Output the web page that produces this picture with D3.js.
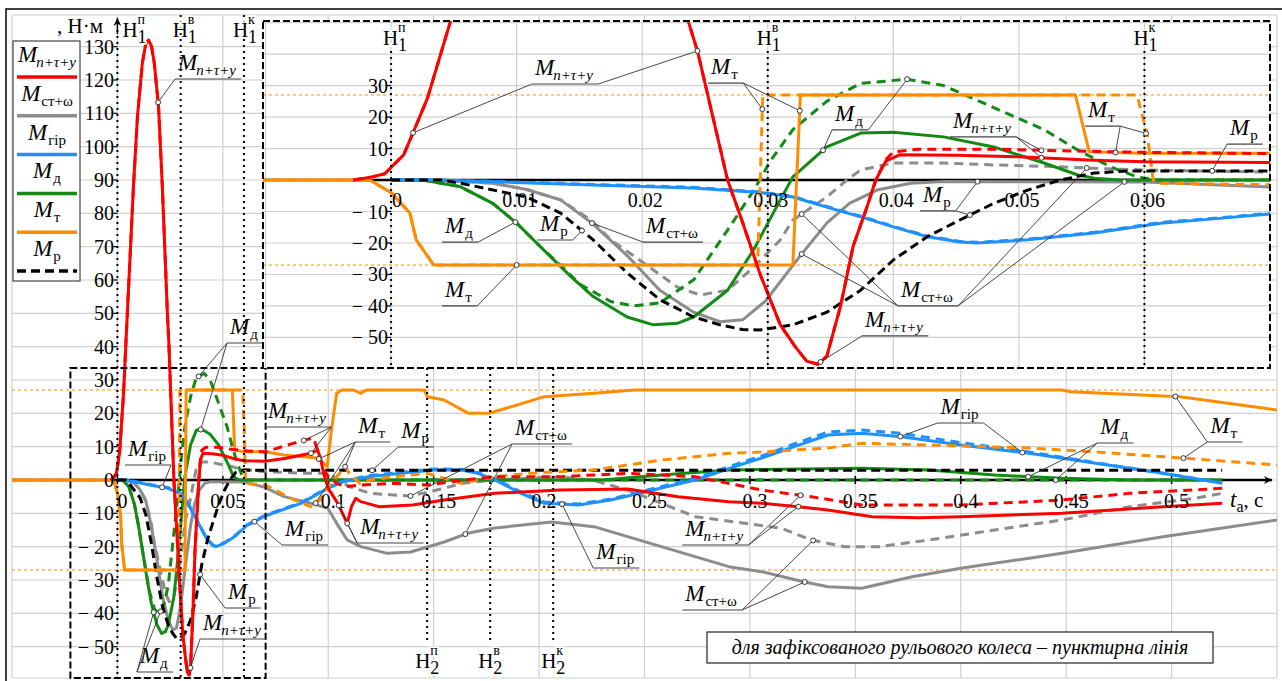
<!DOCTYPE html>
<html>
<head>
<meta charset="utf-8">
<title>Moments</title>
<script src="https://d3js.org/d3.v7.min.js"></script>
<style>
  body { margin: 0; background: #fff; }
  text { font-family: "Liberation Serif", "DejaVu Serif", serif; fill: #000; }
</style>
</head>
<body>
<script>
// ---- data (t in s, moment in N*m) ----
const redSolid = [[-0.003,0],[-0.0015,1],[-0.0005,2],[0,4],[0.001,8],[0.00175,15],[0.0029,26],[0.0047,50],[0.0076,88],[0.0095,109],[0.0118,125],[0.0135,131],[0.0148,132],[0.0162,130],[0.0175,125],[0.0195,112],[0.0213,88],[0.0237,50],[0.0244,41],[0.0268,0],[0.028,-13.5],[0.0294,-30],[0.031,-46],[0.0322,-53],[0.0331,-57.5],[0.034,-58.5],[0.0347,-56],[0.0358,-40],[0.0368,-21],[0.0379,-8.6],[0.0386,0],[0.0394,6],[0.0405,8],[0.045,7.9],[0.05,7.4],[0.0559,6.3],[0.06,5.8],[0.07,5.6],[0.08,6.5],[0.0917,8],[0.095,9],[0.0965,6],[0.098,1.5],[0.1,-2.5],[0.1045,-7],[0.109,-13],[0.111,-8],[0.113,-5.5],[0.1155,-6.5],[0.124,-8],[0.14,-7.5],[0.155,-6],[0.179,-4],[0.21,-3],[0.242,-2.7],[0.266,-5],[0.29,-6.5],[0.3056,-7],[0.323,-8],[0.337,-9],[0.358,-11],[0.38,-11.3],[0.4,-11],[0.448,-10],[0.496,-8],[0.524,-7]];
const redDashed = [[-0.003,0],[-0.0015,1],[-0.0005,2],[0,4],[0.001,8],[0.00175,15],[0.0029,26],[0.0047,50],[0.0076,88],[0.0095,109],[0.0118,125],[0.0135,131],[0.0148,132],[0.0162,130],[0.0175,125],[0.0195,112],[0.0213,88],[0.0237,50],[0.0244,41],[0.0268,0],[0.028,-13.5],[0.0294,-30],[0.031,-46],[0.0322,-53],[0.0331,-57.5],[0.034,-58.5],[0.0347,-56],[0.0358,-40],[0.0368,-21],[0.0379,-8.6],[0.0386,0],[0.0394,6.5],[0.04,8.9],[0.042,9.8],[0.048,9.8],[0.053,9.3],[0.06,8.8],[0.07,8.4],[0.0855,11.4],[0.093,12.6],[0.0955,8],[0.098,3],[0.1,1],[0.104,-1],[0.108,-2],[0.115,-1.5],[0.131,-1],[0.147,-1.5],[0.165,0],[0.179,1],[0.21,1],[0.242,2],[0.274,1],[0.2975,-2],[0.3056,-3],[0.329,-5],[0.353,-7.5],[0.4,-7.5],[0.448,-6],[0.48,-4],[0.524,-2.5]];
const greySolid = [[0,0],[0.004,0],[0.0081,-1],[0.0108,-3],[0.0135,-6.3],[0.016,-13.7],[0.0188,-24],[0.0214,-35],[0.0241,-42],[0.0262,-45],[0.028,-44.4],[0.0298,-38.5],[0.0326,-24],[0.0347,-13.7],[0.0365,-7.4],[0.0387,-3.2],[0.0414,-1],[0.044,-0.5],[0.06,-0.6],[0.07,-2.2],[0.079,-5],[0.092,-7],[0.0998,-8.5],[0.104,-13],[0.109,-18],[0.1155,-20],[0.128,-22],[0.139,-21.6],[0.155,-18.6],[0.166,-16],[0.179,-14.4],[0.206,-12.6],[0.226,-14],[0.258,-20],[0.29,-26],[0.3056,-27.5],[0.326,-30.6],[0.337,-32],[0.353,-32.5],[0.377,-29],[0.4,-26.5],[0.448,-22],[0.496,-17],[0.55,-12]];
const greyDashed = [[0,0],[0.004,0],[0.0081,-1],[0.0108,-3],[0.0135,-6.3],[0.016,-13],[0.0175,-19],[0.02,-26],[0.0228,-34],[0.0246,-36.5],[0.0268,-35],[0.0289,-27.6],[0.031,-19],[0.032,-12.7],[0.0347,-5.4],[0.0363,0],[0.0374,3.2],[0.04,5.4],[0.044,5.4],[0.048,4.8],[0.0533,4.2],[0.056,3.7],[0.06,3.2],[0.07,2.5],[0.09,2],[0.1,2],[0.105,0],[0.11,-2],[0.12,-4],[0.131,-4.5],[0.139,-4.8],[0.155,-2.5],[0.163,-1],[0.179,0],[0.21,1],[0.225,0],[0.242,-3],[0.258,-7],[0.274,-11],[0.2975,-13],[0.315,-14.5],[0.329,-18],[0.345,-20],[0.361,-20],[0.385,-18],[0.416,-15],[0.448,-12],[0.48,-8],[0.511,-5.5],[0.524,-4]];
const blueSolid = [[0,0],[0.0029,0],[0.008,-0.5],[0.016,-1.6],[0.024,-2.5],[0.0294,-4],[0.032,-5.4],[0.0347,-8.6],[0.0374,-11.7],[0.04,-14.9],[0.0427,-18],[0.0453,-19.7],[0.0467,-20],[0.0507,-19],[0.056,-16.8],[0.0613,-13.7],[0.065,-12.5],[0.07,-10.8],[0.087,-7],[0.0998,-2.5],[0.107,-0.5],[0.119,1],[0.1345,2],[0.15,3],[0.163,3],[0.171,2],[0.179,0],[0.1915,-4],[0.2025,-7],[0.2186,-7.5],[0.234,-6],[0.25,-3.6],[0.274,0],[0.2975,5],[0.3056,6.6],[0.321,10],[0.337,13.5],[0.353,14],[0.372,13],[0.4,10.5],[0.4325,8],[0.464,5],[0.496,2],[0.524,-1]];
const blueDashed = [[0,0],[0.0029,0],[0.008,-0.4],[0.016,-1.4],[0.024,-2.3],[0.0294,-3.8],[0.032,-5.2],[0.0347,-8.4],[0.0374,-11.5],[0.04,-14.7],[0.0427,-17.8],[0.0453,-19.5],[0.0467,-19.8],[0.0507,-18.8],[0.056,-16.6],[0.0613,-13.5],[0.065,-12.3],[0.07,-10.6],[0.087,-6.8],[0.0998,-2.3],[0.107,-0.3],[0.119,1.3],[0.1345,2.3],[0.15,3.3],[0.163,3.2],[0.171,2.2],[0.179,0.3],[0.1915,-3.6],[0.2025,-6.6],[0.2186,-7.2],[0.234,-5.7],[0.25,-3.2],[0.274,0.5],[0.2975,5.6],[0.3056,7.2],[0.321,10.8],[0.337,14.4],[0.353,15],[0.372,14],[0.4,11.2],[0.4325,8.4],[0.464,5.2],[0.496,2],[0.524,-0.8]];
const greenSolid = [[0,0],[0.0025,0],[0.0055,-2.1],[0.0081,-7.4],[0.01,-13.7],[0.0121,-22],[0.0143,-30.6],[0.0161,-37],[0.0188,-43.5],[0.0209,-46],[0.0228,-45.5],[0.0241,-43.5],[0.0268,-35],[0.0289,-22],[0.031,-6.3],[0.032,1],[0.0347,10.5],[0.0374,14.9],[0.04,15.2],[0.044,13.7],[0.048,10.5],[0.052,5.4],[0.0547,1.6],[0.056,0.6],[0.058,0],[0.23,0],[0.258,1.5],[0.29,3],[0.353,3.5],[0.385,3],[0.416,1.5],[0.448,0.5],[0.48,0],[0.524,0]];
const greenDashed = [[0,0],[0.0025,0],[0.0055,-2.1],[0.0081,-7.4],[0.01,-13.7],[0.0121,-22],[0.0135,-27],[0.015,-33],[0.0175,-38.6],[0.0193,-40],[0.0214,-39],[0.0241,-31.7],[0.0268,-15.9],[0.0289,-3.2],[0.0302,6],[0.032,16],[0.0347,25],[0.0374,30.7],[0.0411,32],[0.044,30],[0.048,23],[0.052,16],[0.0547,9.5],[0.0573,4.2],[0.0594,1],[0.061,0],[0.524,0]];
const orangeSolid = [[-0.05,0],[-0.0017,0],[0,-4],[0.0015,-10.5],[0.002,-19],[0.0034,-27],[0.032,-27],[0.0326,27],[0.0545,27],[0.0556,9],[0.06,8.5],[0.07,8.5],[0.079,7.5],[0.095,6.6],[0.0995,4],[0.1015,15],[0.104,26],[0.1065,27],[0.112,27],[0.1155,26],[0.118,27],[0.1455,27],[0.147,25],[0.155,24],[0.1665,20],[0.176,20],[0.187,22],[0.2025,25],[0.226,26],[0.245,27],[0.448,27],[0.452,26.5],[0.504,25],[0.55,21]];
const orangeDashed = [[-0.05,0],[-0.0017,0],[0,-4],[0.0015,-10.5],[0.002,-19],[0.0034,-27],[0.0292,-27],[0.0296,27],[0.0594,27],[0.0602,15],[0.0607,0],[0.0613,-1],[0.07,-1.5],[0.084,-6],[0.0917,-8],[0.096,-6],[0.1,-2],[0.104,1],[0.108,4],[0.11,2],[0.115,-1],[0.12,0],[0.131,1],[0.147,2],[0.163,-1],[0.179,1],[0.195,2],[0.226,3],[0.258,6],[0.29,8],[0.3056,8.4],[0.337,9.6],[0.353,11],[0.385,10.5],[0.4325,9.6],[0.464,8.4],[0.496,7],[0.55,4.5]];
const blackDashed = [[0,0],[0.004,0],[0.0055,-1],[0.0108,-5.4],[0.0135,-10.5],[0.0161,-19],[0.0188,-29.5],[0.0214,-38],[0.0241,-43.5],[0.0262,-46],[0.028,-47.5],[0.0294,-47.6],[0.032,-46],[0.0347,-42],[0.0374,-35],[0.04,-25.4],[0.0427,-18],[0.0453,-12.7],[0.048,-7.4],[0.0507,-3.2],[0.0533,0],[0.056,2.2],[0.0587,2.9],[0.524,2.9]];

const limitMoment = 27;           // orange reference lines +-27
const mainXTicks = [0, 0.05, 0.1, 0.15, 0.2, 0.25, 0.3, 0.35, 0.4, 0.45, 0.5];
const mainYTicks = [-50, -40, -30, -20, -10, 0, 10, 20, 30, 40, 50, 60, 70, 80, 90, 100, 110, 120, 130];
const insetXTicks = [0, 0.01, 0.02, 0.03, 0.04, 0.05, 0.06];
const insetYTicks = [-50, -40, -30, -20, -10, 10, 20, 30];
const stage1 = [["п", 0], ["в", 0.03], ["к", 0.06]];
const stage2 = [["п", 0.1469], ["в", 0.1768], ["к", 0.2067]];
const legendNames = [["n+τ+y", true], ["ст+ω", false], ["гір", false], ["д", false], ["т", false], ["р", false]];

const S = {redS: redSolid, redD: redDashed, greyS: greySolid, greyD: greyDashed, blueS: blueSolid, blueD: blueDashed,
           greenS: greenSolid, greenD: greenDashed, orS: orangeSolid, orD: orangeDashed, blkD: blackDashed};

// drawing order and look
const styles = [
  ["greyS", "#8c8c8c", null], ["greyD", "#8c8c8c", "9,6"],
  ["greenS", "#138a13", null], ["greenD", "#138a13", "9,6"],
  ["blueS", "#1e90ff", null], ["blueD", "#1e90ff", "9,6"],
  ["blkD", "#000", "9,5"],
  ["orS", "#ff8c00", null], ["orD", "#ff8c00", "9,6"],
  ["redS", "#ff0000", null], ["redD", "#ff0000", "9,6"]
];
const legendColors = [["#ff0000", null], ["#8c8c8c", null], ["#1e90ff", null], ["#138a13", null], ["#ff8c00", null], ["#000", "9,5"]];

// callouts: underline left end [t, v], targets [end, series, t] or [end, t, v]
const insetNotes = [
  {sub: "n+τ+y", it: true, at: [0.01123, 30.5], to: [["l", "redS", 0.00175], ["r", "redS", 0.0244]]},
  {sub: "т", at: [0.02525, 30.8], to: [["r", 0.02957, 22.5], ["r", 0.03255, 22]]},
  {sub: "д", at: [0.03512, 15.9], to: [["l", "greenS", 0.0344], ["r", "greenD", 0.0411]]},
  {sub: "n+τ+y", it: true, at: [0.04452, 13.7], to: [["r", "redD", 0.0518], ["r", "redS", 0.0518]]},
  {sub: "т", at: [0.05527, 17.1], to: [["r", "orS", 0.0577], ["r", 0.06013, 14.8]]},
  {sub: "р", at: [0.06658, 11.4], to: [["l", "blkD", 0.0654]]},
  {sub: "ст+ω", at: [0.04038, -40], to: [["l", "greyD", 0.0327], ["l", "greyS", 0.0327], ["r", "greyD", 0.0554], ["r", "greyS", 0.0584]]},
  {sub: "ст+ω", at: [0.02007, -19.7], to: [["l", "greyS", 0.016]]},
  {sub: "р", at: [0.01163, -19.05], to: [["r", "blkD", 0.0152]]},
  {sub: "д", at: [0.00406, -19.7], to: [["r", "greenS", 0.0099]]},
  {sub: "т", at: [0.00406, -40], to: [["r", "orS", 0.01]]},
  {sub: "р", at: [0.04213, -9.8], to: [["r", "blkD", 0.0461], ["r", "greyS", 0.0467]]},
  {sub: "n+τ+y", it: true, at: [0.03751, -49.5], to: [["l", "redS", 0.0342]]}
];
const mainNotes = [
  {sub: "n+τ+y", it: true, at: [0.02733, 120.3], to: [["l", "redS", 0.0193]]},
  {sub: "д", at: [0.052, 41.1], to: [["l", "greenD", 0.0385], ["l", "greenS", 0.0395]]},
  {sub: "гір", at: [0.0036, 4.5], to: [["r", "blueS", 0.0212]]},
  {sub: "р", at: [0.05105, -38.4], to: [["l", "blkD", 0.0392]]},
  {sub: "n+τ+y", it: true, at: [0.03919, -47.7], to: [["l", "redS", 0.0346]]},
  {sub: "д", at: [0.00925, -57.6], to: [["l", "greenS", 0.0172], ["l", "greenD", 0.0205]]},
  {sub: "n+τ+y", it: true, at: [0.07004, 15.9], to: [["r", "redD", 0.0884], ["r", "redS", 0.0918]]},
  {sub: "т", at: [0.1128, 11.4], to: [["l", "orS", 0.0955], ["l", "orD", 0.108], ["l", "orD", 0.094]]},
  {sub: "р", at: [0.1332, 9.9], to: [["l", "blkD", 0.1208]]},
  {sub: "ст+ω", at: [0.1872, 10.8], to: [["l", "greyD", 0.139], ["l", "greyS", 0.165]]},
  {sub: "гір", at: [0.0781, -19.5], to: [["l", "blueS", 0.065]]},
  {sub: "n+τ+y", it: true, at: [0.1137, -18.9], to: [["l", "redS", 0.105], ["l", "redS", 0.109]]},
  {sub: "гір", at: [0.2257, -26.4], to: [["l", "blueS", 0.2109]]},
  {sub: "n+τ+y", it: true, at: [0.2679, -19.5], to: [["r", "redD", 0.324], ["r", "redS", 0.323]]},
  {sub: "ст+ω", at: [0.2679, -39], to: [["r", "greyD", 0.33], ["r", "greyS", 0.326]]},
  {sub: "гір", at: [0.389, 17.1], to: [["l", "blueS", 0.3713], ["r", "blueS", 0.4292]]},
  {sub: "д", at: [0.4648, 11.1], to: [["l", "greenS", 0.432], ["l", "greenD", 0.445]]},
  {sub: "т", at: [0.517, 11.4], to: [["l", "orS", 0.5018], ["l", "orD", 0.5056]]}
];

// ---- setup ----
const W = 1282, H = 681;
const svg = d3.select("body").append("svg").attr("width", W).attr("height", H);
svg.append("rect").attr("width", W).attr("height", H).attr("fill", "#fff");

const x = d3.scaleLinear().domain([-0.05, 0.55]).range([12, 1277]);
const y = d3.scaleLinear().domain([-59.4, 139.5]).range([678, 15]);
const xi = d3.scaleLinear().domain([-0.0102, 0.07]).range([263, 1270]);
const yi = d3.scaleLinear().domain([-59.7, 50.5]).range([368, 21]);

const defs = svg.append("defs");
defs.append("clipPath").attr("id", "clipMain").append("rect")
  .attr("x", 12).attr("y", 15).attr("width", 1265).attr("height", 663);
defs.append("clipPath").attr("id", "clipIn").append("rect")
  .attr("x", 263).attr("y", 21).attr("width", 1007).attr("height", 347);
defs.append("marker").attr("id", "arr").attr("viewBox", "0 0 10 10").attr("refX", 10).attr("refY", 5)
  .attr("markerWidth", 18).attr("markerHeight", 8).attr("markerUnits", "userSpaceOnUse").attr("orient", "auto")
  .append("path").attr("d", "M0,0L10,5L0,10L3,5Z").attr("fill", "#000");

function valAt(arr, t) {
  const i = d3.bisector(d => d[0]).left(arr, t);
  if (i <= 0) return arr[0][1];
  if (i >= arr.length) return arr[arr.length - 1][1];
  const a = arr[i - 1], b = arr[i];
  return a[1] + (b[1] - a[1]) * (t - a[0]) / (b[0] - a[0]);
}

function fmt(v) { return v < 0 ? "\u2212 " + (-v) : String(v); }

function grid(g, xs, ys, xv, yv) {
  const [x0, x1] = xs.range(), [y0, y1] = ys.range();
  g.selectAll(null).data(xv).enter().append("line")
    .attr("x1", d => xs(d)).attr("x2", d => xs(d)).attr("y1", y0).attr("y2", y1)
    .attr("stroke", "#cfcfcf").attr("stroke-width", 1.2);
  g.selectAll(null).data(yv).enter().append("line")
    .attr("x1", x0).attr("x2", x1).attr("y1", d => ys(d)).attr("y2", d => ys(d))
    .attr("stroke", "#cfcfcf").attr("stroke-width", 1.2);
}

function curves(g, xs, ys, clip) {
  const line = d3.line().x(d => xs(d[0])).y(d => ys(d[1]));
  const cg = g.append("g").attr("clip-path", "url(#" + clip + ")");
  styles.forEach(([k, c, dash]) => {
    cg.append("path").attr("d", line(S[k])).attr("fill", "none")
      .attr("stroke", c).attr("stroke-width", 3).attr("stroke-linejoin", "round")
      .attr("stroke-dasharray", dash);
  });
}

function limits(g, xs, ys) {
  const [x0, x1] = xs.range();
  [limitMoment, -limitMoment].forEach(v => {
    g.append("line").attr("x1", x0).attr("x2", x1).attr("y1", ys(v)).attr("y2", ys(v))
      .attr("stroke", "#ff8c00").attr("stroke-width", 1).attr("stroke-dasharray", "3,3");
  });
}

function mText(g, px, py, sub, it, anchor) {
  const t = g.append("text").attr("x", px).attr("y", py).attr("text-anchor", anchor || "start");
  t.append("tspan").attr("font-style", "italic").attr("font-size", 23).text("M");
  t.append("tspan").attr("font-size", 15).attr("dy", 5).attr("dx", it ? -1 : 1)
    .attr("font-style", it ? "italic" : "normal").text(sub);
  return t;
}

// "Н" with stacked subscript and superscript, as three separate texts
function hLabel(g, px, py, sub, sup) {
  const hg = g.append("g").attr("stroke", "#fff").attr("stroke-width", 3).attr("paint-order", "stroke");
  hg.append("text").attr("x", px).attr("y", py).attr("font-size", 21).text("Н");
  hg.append("text").attr("x", px + 15).attr("y", py + 6).attr("font-size", 18).text(sub);
  hg.append("text").attr("x", px + 15).attr("y", py - 13).attr("font-size", 14).text(sup);
}

function notes(g, xs, ys, list) {
  list.forEach(c => {
    const x0 = xs(c.at[0]), y0 = ys(c.at[1]);
    const t = mText(g, x0 + 3, y0 - 9, c.sub, c.it);
    const x1 = x0 + t.node().getBBox().width + 7;
    g.append("line").attr("x1", x0).attr("x2", x1).attr("y1", y0).attr("y2", y0)
      .attr("stroke", "#444").attr("stroke-width", 1.2);
    c.to.forEach(tg => {
      const sx = tg[0] === "l" ? x0 : x1;
      let px, py;
      if (typeof tg[1] === "string") { px = xs(tg[2]); py = ys(valAt(S[tg[1]], tg[2])); }
      else { px = xs(tg[1]); py = ys(tg[2]); }
      g.append("line").attr("x1", sx).attr("y1", y0).attr("x2", px).attr("y2", py)
        .attr("stroke", "#333").attr("stroke-width", 0.9);
      g.append("circle").attr("cx", px).attr("cy", py).attr("r", 2.5)
        .attr("fill", "#fff").attr("stroke", "#333").attr("stroke-width", 1);
    });
  });
}

// ---- main chart ----
const main = svg.append("g");
grid(main, x, y, d3.range(-0.05, 0.551, 0.05), mainYTicks.concat([-59.4, 139.5]));
limits(main, x, y);

// x axis
main.append("line").attr("x1", 12).attr("x2", 1272).attr("y1", y(0)).attr("y2", y(0))
  .attr("stroke", "#000").attr("stroke-width", 2.5).attr("marker-end", "url(#arr)");
main.selectAll(null).data(mainXTicks).enter().append("line")
  .attr("x1", d => x(d)).attr("x2", d => x(d)).attr("y1", y(0) - 4).attr("y2", y(0) + 4)
  .attr("stroke", "#000").attr("stroke-width", 1.5);

curves(main, x, y, "clipMain");

// stage lines (dotted)
stage1.forEach(([s, t]) => {
  main.append("line").attr("x1", x(t)).attr("x2", x(t)).attr("y1", t === 0 ? 30 : 15).attr("y2", 678)
    .attr("stroke", "#000").attr("stroke-width", 2).attr("stroke-dasharray", "2,4");
});
main.append("line").attr("x1", x(0)).attr("x2", x(0)).attr("y1", 34).attr("y2", 18)
  .attr("stroke", "#000").attr("stroke-width", 1.5).attr("marker-end", "url(#arr)");
stage2.forEach(([s, t]) => {
  main.append("line").attr("x1", x(t)).attr("x2", x(t)).attr("y1", 368).attr("y2", 643)
    .attr("stroke", "#000").attr("stroke-width", 2).attr("stroke-dasharray", "2,4");
});

// zoom window
main.append("rect").attr("x", x(-0.0223)).attr("y", y(33.6))
  .attr("width", x(0.0703) - x(-0.0223)).attr("height", y(-59.4) - y(33.6))
  .attr("fill", "none").attr("stroke", "#000").attr("stroke-width", 2).attr("stroke-dasharray", "7,3");

// tick labels
main.selectAll(null).data(mainYTicks).enter().append("text")
  .attr("x", 114).attr("y", d => y(d) + 7).attr("text-anchor", "end").attr("font-size", 20)
  .text(fmt);
main.selectAll(null).data(mainYTicks).enter().append("line")
  .attr("x1", x(0) - 4).attr("x2", x(0)).attr("y1", d => y(d)).attr("y2", d => y(d))
  .attr("stroke", "#000").attr("stroke-width", 1.2);
main.selectAll(null).data(mainXTicks).enter().append("text")
  .attr("x", d => x(d) + 5).attr("y", 508).attr("text-anchor", "middle").attr("font-size", 20)
  .text(d => String(d));
main.append("text").attr("x", 57).attr("y", 33).attr("font-size", 21).text(", Н·м");

const ta = main.append("text").attr("x", 1230).attr("y", 507).attr("font-size", 23);
ta.append("tspan").attr("font-style", "italic").text("t");
ta.append("tspan").attr("font-size", 16).attr("dy", 5).text("a");
ta.append("tspan").attr("dy", -5).attr("font-size", 21).text(", с");

hLabel(main, x(0) + 5, 37, "1", "п");
hLabel(main, x(0.03) - 8, 37, "1", "в");
hLabel(main, x(0.06) - 11, 37, "1", "к");
stage2.forEach(([s, t]) => hLabel(main, x(t) - 12, 668, "2", s));

notes(main, x, y, mainNotes);

// note box
const nb = main.append("g");
nb.append("rect").attr("x", 707).attr("y", 632).attr("width", 506).attr("height", 31)
  .attr("fill", "#fff").attr("stroke", "#222").attr("stroke-width", 1.2);
nb.append("text").attr("x", 960).attr("y", 654).attr("text-anchor", "middle")
  .attr("font-size", 20).attr("font-style", "italic")
  .text("для зафіксованого рульового колеса – пунктирна лінія");

// ---- inset ----
const ins = svg.append("g");
ins.append("rect").attr("x", 263).attr("y", 21).attr("width", 1007).attr("height", 347).attr("fill", "#fff");
grid(ins, xi, yi, [-0.01, 0, 0.01, 0.02, 0.03, 0.04, 0.05, 0.06, 0.07],
  [-50, -40, -30, -20, -10, 0, 10, 20, 30, 40, 50]);
limits(ins, xi, yi);
ins.append("line").attr("x1", 263).attr("x2", 1270).attr("y1", yi(0)).attr("y2", yi(0))
  .attr("stroke", "#000").attr("stroke-width", 2.5);
curves(ins, xi, yi, "clipIn");
stage1.forEach(([s, t]) => {
  ins.append("line").attr("x1", xi(t)).attr("x2", xi(t)).attr("y1", 51).attr("y2", 368)
    .attr("stroke", "#000").attr("stroke-width", 2).attr("stroke-dasharray", "2,4");
  hLabel(ins, xi(t) - (t === 0 ? 8 : 11), 45, "1", s);
});
ins.selectAll(null).data(insetYTicks).enter().append("line")
  .attr("x1", xi(0) - 4).attr("x2", xi(0)).attr("y1", d => yi(d)).attr("y2", d => yi(d))
  .attr("stroke", "#000").attr("stroke-width", 1.2);
ins.selectAll(null).data(insetYTicks).enter().append("text")
  .attr("x", 388).attr("y", d => yi(d) + 7).attr("text-anchor", "end").attr("font-size", 20)
  .text(fmt);
ins.selectAll(null).data(insetXTicks).enter().append("text")
  .attr("x", d => xi(d) + (d === 0 ? 6 : 3)).attr("y", 207).attr("text-anchor", "middle").attr("font-size", 20)
  .text(d => String(d));
notes(ins, xi, yi, insetNotes);
ins.append("rect").attr("x", 263).attr("y", 21).attr("width", 1007).attr("height", 347)
  .attr("fill", "none").attr("stroke", "#000").attr("stroke-width", 2).attr("stroke-dasharray", "7,3");

// ---- legend ----
const lg = svg.append("g");
lg.append("rect").attr("x", 13).attr("y", 41).attr("width", 67).attr("height", 240)
  .attr("fill", "#fff").attr("stroke", "#444").attr("stroke-width", 1.2);
legendNames.forEach(([sub, it], i) => {
  const ly = 77 + i * 38.8;
  mText(lg, 47, ly - 15, sub, it, "middle");
  lg.append("line").attr("x1", 17).attr("x2", 77).attr("y1", ly).attr("y2", ly)
    .attr("stroke", legendColors[i][0]).attr("stroke-width", 3.5)
    .attr("stroke-dasharray", legendColors[i][1]);
});

// outer frame (top and left)
svg.append("path").attr("d", "M6,681V9H1282").attr("fill", "none").attr("stroke", "#000").attr("stroke-width", 1.5);
</script>
</body>
</html>
